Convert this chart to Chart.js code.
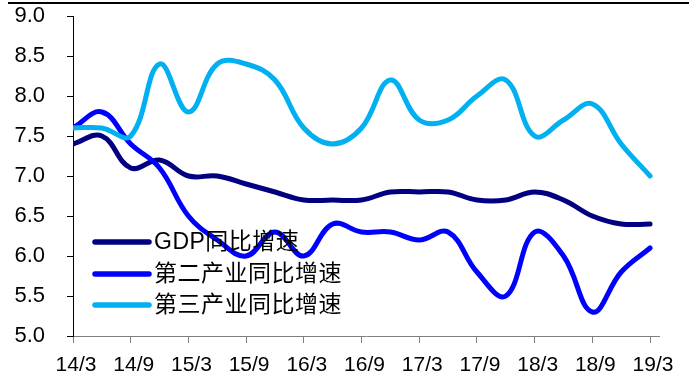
<!DOCTYPE html>
<html>
<head>
<meta charset="utf-8">
<script src="https://cdn.jsdelivr.net/npm/chart.js@4.4.1/dist/chart.umd.min.js"></script>
<style>
  html, body { margin: 0; padding: 0; background: #fff; }
  #wrap { position: relative; width: 699px; height: 378px; }
  #topRule { position: absolute; left: 8px; top: 2px; width: 681px; height: 2px; background: #000; }
  canvas { position: absolute; left: 0; top: 0; }
</style>
</head>
<body>
<div id="wrap">
  <canvas id="c" width="699" height="378"></canvas>
  <div id="topRule"></div>
</div>
<script>
// Quarterly year-on-year growth, %
const quarters = ['14/3','14/6','14/9','14/12','15/3','15/6','15/9','15/12','16/3','16/6','16/9','16/12',
                  '17/3','17/6','17/9','17/12','18/3','18/6','18/9','18/12','19/3'];
const gdpGrowth       = [7.4,7.5,7.1,7.2,7.0,7.0,6.9,6.8,6.7,6.7,6.7,6.8,6.8,6.8,6.7,6.7,6.8,6.7,6.5,6.4,6.4];
const secondaryGrowth = [7.6,7.8,7.4,7.1,6.5,6.2,6.0,6.3,6.0,6.4,6.3,6.3,6.2,6.3,5.8,5.5,6.3,6.0,5.3,5.8,6.1];
const tertiaryGrowth  = [7.6,7.6,7.5,8.4,7.8,8.4,8.4,8.2,7.6,7.4,7.6,8.2,7.7,7.7,8.0,8.2,7.5,7.7,7.9,7.4,7.0];
const seriesNames = ['GDP同比增速', '第二产业同比增速', '第三产业同比增速'];
const yTicks = [5.0, 5.5, 6.0, 6.5, 7.0, 7.5, 8.0, 8.5, 9.0];

const FONT = '"Liberation Sans", Arial, "Noto Sans CJK SC", sans-serif';

function toPoints(values) {
  return values.map((v, i) => ({ x: i, y: v }));
}

// Legend drawn inside the plot, lower-left
const innerLegend = {
  id: 'innerLegend',
  afterDatasetsDraw(chart) {
    const ctx = chart.ctx;
    const area = chart.chartArea;
    const x0 = area.left + 22, x1 = area.left + 76, tx = area.left + 81;
    const rows = [242, 274, 305];
    ctx.save();
    chart.data.datasets.forEach((ds, i) => {
      const y = rows[i];
      ctx.strokeStyle = ds.borderColor;
      ctx.lineWidth = 5.5;
      ctx.lineCap = 'round';
      ctx.beginPath();
      ctx.moveTo(x0, y);
      ctx.lineTo(x1, y);
      ctx.stroke();
      ctx.fillStyle = '#000';
      ctx.font = '23px ' + FONT;
      if ('letterSpacing' in ctx) ctx.letterSpacing = '0.5px';
      ctx.textBaseline = 'middle';
      ctx.textAlign = 'left';
      ctx.fillText(ds.label, tx, y + 1);
    });
    ctx.restore();
  }
};

const lineStyle = {
  borderWidth: 5,
  pointRadius: 0,
  tension: 0.4,
  fill: false,
  borderCapStyle: 'round',
  borderJoinStyle: 'round'
};

new Chart(document.getElementById('c'), {
  type: 'line',
  data: {
    datasets: [
      Object.assign({ label: seriesNames[0], data: toPoints(gdpGrowth), borderColor: '#000080', order: 3 }, lineStyle),
      Object.assign({ label: seriesNames[1], data: toPoints(secondaryGrowth), borderColor: '#0000FF', order: 2 }, lineStyle),
      Object.assign({ label: seriesNames[2], data: toPoints(tertiaryGrowth), borderColor: '#00B0F0', order: 1 }, lineStyle)
    ]
  },
  options: {
    responsive: false,
    animation: false,
    devicePixelRatio: 1,
    layout: { padding: { top: 16, right: 40, left: 0, bottom: 0 } },
    plugins: { legend: { display: false }, tooltip: { enabled: false } },
    scales: {
      x: {
        type: 'linear',
        min: 0,
        max: 20.31,
        afterBuildTicks(scale) {
          scale.ticks = quarters.map((q, i) => ({ value: i })).filter(t => t.value % 2 === 0);
        },
        afterFit(scale) {
          scale.height = 42;
          scale.paddingLeft = 0;
          scale.paddingRight = 0;
        },
        border: { display: true, color: '#808080', width: 1 },
        grid: { display: true, drawOnChartArea: false, drawTicks: true, tickLength: 7, tickColor: '#808080' },
        ticks: {
          autoSkip: false,
          maxRotation: 0,
          padding: 10,
          labelOffset: 3,
          color: '#000',
          font: { family: FONT, size: 21 },
          callback: (v) => quarters[v]
        }
      },
      y: {
        min: 5,
        max: 9,
        afterBuildTicks(scale) {
          scale.ticks = yTicks.map(v => ({ value: v }));
        },
        afterFit(scale) {
          scale.width = 73;
          scale.paddingTop = 0;
          scale.paddingBottom = 0;
        },
        border: { display: true, color: '#000', width: 1 },
        grid: { display: true, drawOnChartArea: false, drawTicks: true, tickLength: 6, tickColor: '#000' },
        ticks: {
          padding: 22,
          color: '#000',
          font: { family: FONT, size: 22 },
          callback: (v) => Number(v).toFixed(1)
        }
      }
    }
  },
  plugins: [innerLegend]
});
</script>
</body>
</html>
